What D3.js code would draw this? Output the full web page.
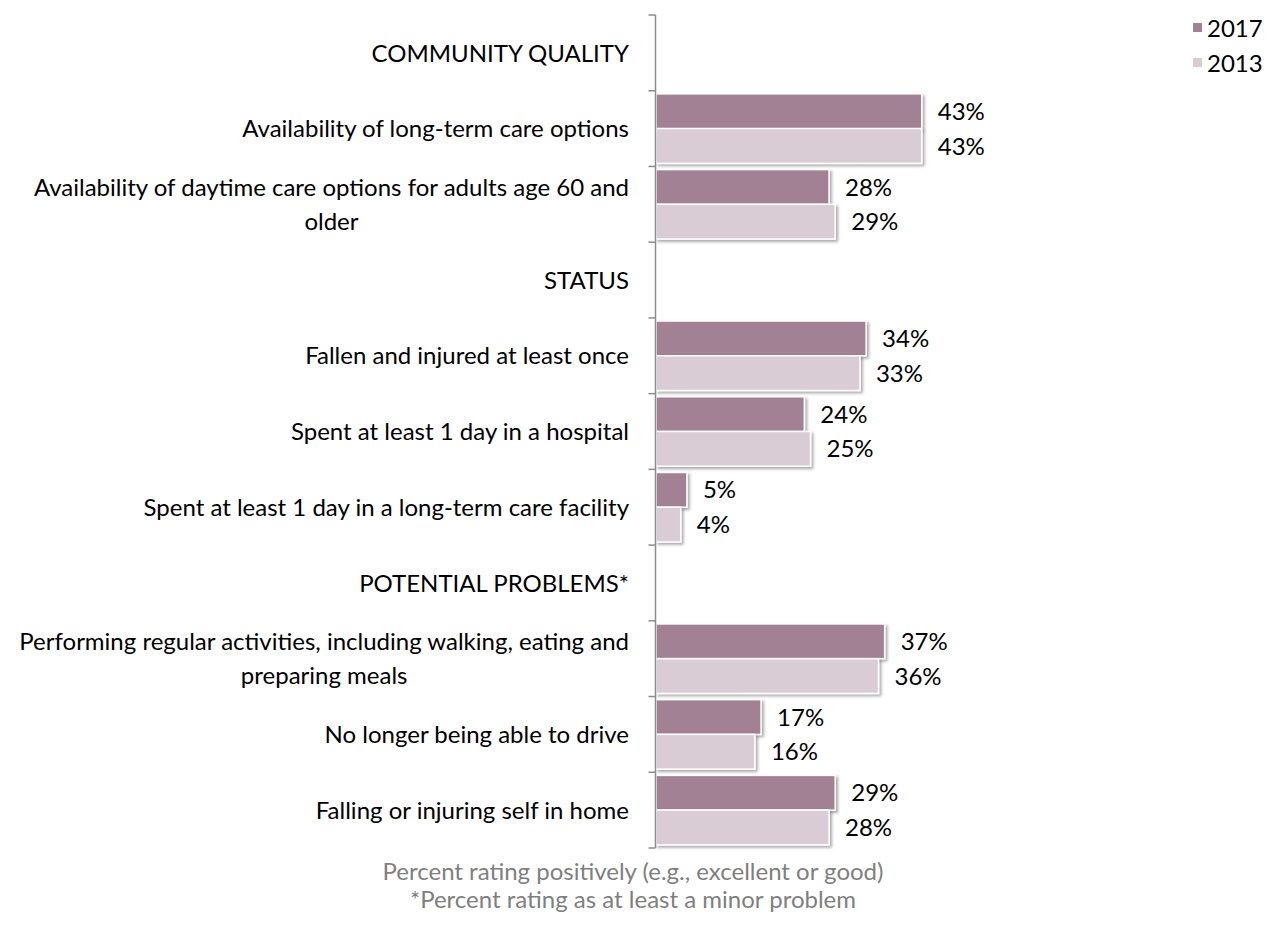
<!DOCTYPE html>
<html>
<head>
<meta charset="utf-8">
<script src="https://cdn.jsdelivr.net/npm/d3@7"></script>
<style>
  html, body { margin: 0; padding: 0; background: #fff; }
  svg { display: block; font-family: "Lato", "Open Sans", sans-serif; }
</style>
</head>
<body>
<svg id="chart" width="1279" height="939"></svg>
<script>
// Category rows (headers have no bars)
const categories = [
  "COMMUNITY QUALITY",
  "Availability of long-term care options",
  "Availability of daytime care options for adults age 60 and|older",
  "STATUS",
  "Fallen and injured at least once",
  "Spent at least 1 day in a hospital",
  "Spent at least 1 day in a long-term care facility",
  "POTENTIAL PROBLEMS*",
  "Performing regular activities, including walking, eating and|preparing meals",
  "No longer being able to drive",
  "Falling or injuring self in home"
];
const seriesNames = ["2017", "2013"];
const values2017 = [null, 43, 28, null, 34, 24, 5, null, 37, 17, 29];
const values2013 = [null, 43, 29, null, 33, 25, 4, null, 36, 16, 28];
const footnotes = [
  "Percent rating positively (e.g., excellent or good)",
  "*Percent rating as at least a minor problem"
];

const colors = { "2017": "#A28194", "2013": "#D9CCD5" };
const fontSize = 24;

const svg = d3.select("#chart");
const plotLeft = 656, plotTop = 15, plotBottom = 848;

// drop shadow for bars
const defs = svg.append("defs");
const f = defs.append("filter").attr("id", "shadow")
  .attr("x", "-10%").attr("y", "-30%").attr("width", "130%").attr("height", "180%");
f.append("feDropShadow").attr("dx", 2).attr("dy", 2).attr("stdDeviation", 1.6)
  .attr("flood-color", "#000").attr("flood-opacity", 0.35);

const y = d3.scaleBand().domain(d3.range(categories.length)).range([plotTop, plotBottom]);
const x = d3.scaleLinear().domain([0, 100]).range([plotLeft, plotLeft + 618]);
const yInner = d3.scaleBand().domain(seriesNames).range([0, y.bandwidth()]).paddingOuter(0.09);

// bars
const rows = categories.map((c, i) => ({ i, v: { "2017": values2017[i], "2013": values2013[i] } }));
const groups = svg.append("g").selectAll("g").data(rows).join("g")
  .attr("transform", d => `translate(0,${y(d.i)})`);

groups.each(function(d) {
  const g = d3.select(this);
  seriesNames.forEach(s => {
    const v = d.v[s];
    if (v == null) return;
    g.append("rect")
      .attr("x", x(0))
      .attr("y", yInner(s))
      .attr("width", x(v) - x(0))
      .attr("height", yInner.bandwidth())
      .attr("fill", colors[s])
      .attr("stroke", "#fff")
      .attr("stroke-width", 1.5)
      .attr("filter", "url(#shadow)");
    g.append("text")
      .attr("x", x(v) + 16)
      .attr("y", yInner(s) + yInner.bandwidth() / 2)
      .attr("dy", "0.36em")
      .attr("font-size", fontSize)
      .attr("fill", "#000")
      .text(v + "%");
  });
});

// category axis
const axis = svg.append("g").attr("transform", `translate(${plotLeft - 0.5},0)`);
axis.append("line").attr("x1", 0).attr("x2", 0).attr("y1", plotTop).attr("y2", plotBottom)
  .attr("stroke", "#8c8c8c").attr("stroke-width", 1.5);
const tickPos = d3.range(categories.length + 1).map(i => plotTop + i * y.step());
axis.selectAll("line.tick").data(tickPos).join("line").attr("class", "tick")
  .attr("x1", -7).attr("x2", 0).attr("y1", d => d).attr("y2", d => d)
  .attr("stroke", "#8c8c8c").attr("stroke-width", 1.5);

// category labels: block right-aligned, lines centred within block
const labelRight = 629, lineH = 34;
categories.forEach((c, i) => {
  const lines = c.split("|");
  const cy = y(i) + y.bandwidth() / 2;
  const t = svg.append("text").attr("font-size", fontSize).attr("fill", "#000");
  const spans = lines.map((ln, k) => t.append("tspan")
    .attr("y", cy + (k - (lines.length - 1) / 2) * lineH)
    .attr("dy", "0.36em")
    .text(ln));
  const widths = spans.map(s => s.node().getComputedTextLength());
  const maxW = d3.max(widths);
  spans.forEach(s => {
    s.attr("x", labelRight - maxW / 2).attr("text-anchor", "middle");
  });
});

// legend
const legend = svg.append("g");
seriesNames.forEach((s, k) => {
  const ly = 28 + k * 35;
  legend.append("rect").attr("x", 1193).attr("y", ly - 5).attr("width", 9).attr("height", 9)
    .attr("fill", colors[s]);
  legend.append("text").attr("x", 1207).attr("y", ly).attr("dy", "0.36em")
    .attr("font-size", fontSize).attr("fill", "#000").text(s);
});

// footnotes
footnotes.forEach((t, k) => {
  svg.append("text").attr("x", 633).attr("y", 871 + k * 28).attr("dy", "0.36em")
    .attr("text-anchor", "middle").attr("font-size", fontSize).attr("fill", "#7f7f7f").text(t);
});
</script>
</body>
</html>
